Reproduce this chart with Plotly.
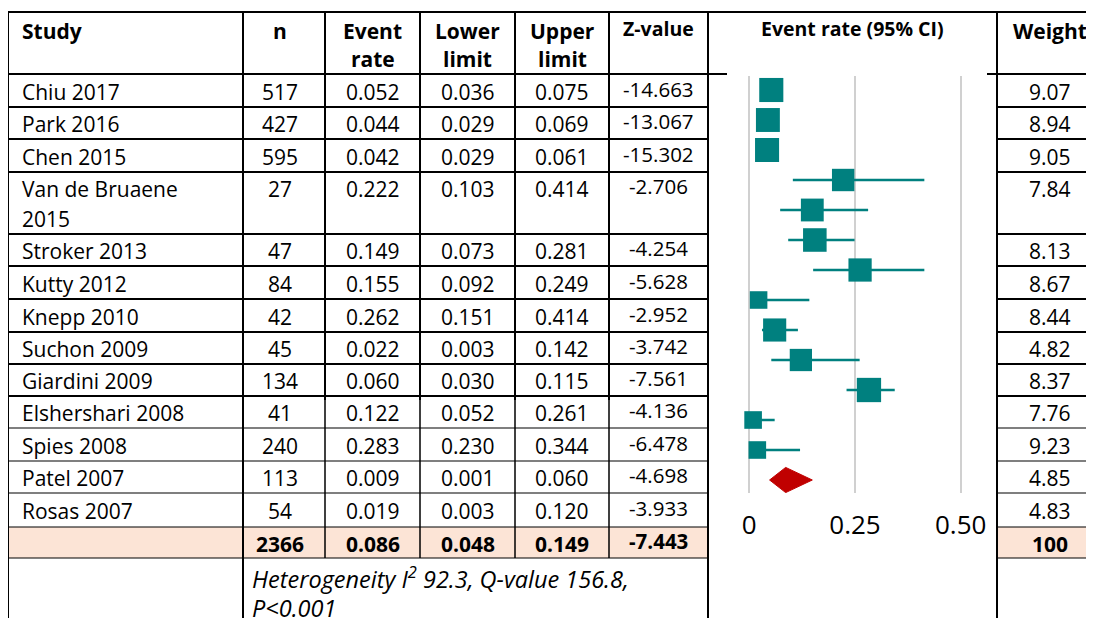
import math
import plotly.graph_objects as go

# ---------------- data ----------------
studies = ["Chiu 2017", "Park 2016", "Chen 2015", "Van de Bruaene<br>2015", "Stroker 2013",
           "Kutty 2012", "Knepp 2010", "Suchon 2009", "Giardini 2009", "Elshershari 2008",
           "Spies 2008", "Patel 2007", "Rosas 2007"]
n_values = [517, 427, 595, 27, 47, 84, 42, 45, 134, 41, 240, 113, 54]
event_rate = [0.052, 0.044, 0.042, 0.222, 0.149, 0.155, 0.262, 0.022, 0.060, 0.122, 0.283, 0.009, 0.019]
lower_limit = [0.036, 0.029, 0.029, 0.103, 0.073, 0.092, 0.151, 0.003, 0.030, 0.052, 0.230, 0.001, 0.003]
upper_limit = [0.075, 0.069, 0.061, 0.414, 0.281, 0.249, 0.414, 0.142, 0.115, 0.261, 0.344, 0.060, 0.120]
z_values = [-14.663, -13.067, -15.302, -2.706, -4.254, -5.628, -2.952, -3.742, -7.561, -4.136,
            -6.478, -4.698, -3.933]
weights = [9.07, 8.94, 9.05, 7.84, 8.13, 8.67, 8.44, 4.82, 8.37, 7.76, 9.23, 4.85, 4.83]

total_n = 2366
pooled_rate = 0.086
pooled_lower = 0.048
pooled_upper = 0.149
pooled_z = -7.443
total_weight = 100

heterogeneity_lines = ["Heterogeneity I<sup>2</sup> 92.3, Q-value 156.8,", "P<0.001"]
headers = ["Study", "n", "Event<br>rate", "Lower<br>limit", "Upper<br>limit", "Z-value",
           "Event rate (95% CI)", "Weight"]
tick_values = [0, 0.25, 0.5]
tick_labels = ["0", "0.25", "0.50"]

# ---------------- layout geometry ----------------
OFF = 8                      # page body margin
VW, VH = 1094, 618           # viewport
W, H = VW - OFF, VH - OFF    # figure size
FONT = "Open Sans"
TEAL = "#00807F"
RED = "#C00000"
ORANGE = "#FCE4D6"

col_edges = [8, 243, 325, 420, 515, 609, 708, 997, 1103]
row_edges = [12, 74, 107, 139, 172, 234, 266, 299, 332, 364, 396, 428, 461, 493, 527, 558, 640]
col_centers = [(col_edges[i] + col_edges[i + 1]) / 2 for i in range(len(col_edges) - 1)]
col_centers[1] = 280
col_centers[7] = 1050

fig = go.Figure()

# forest plot mapping (viewport pixels)
px0, ppu = 749.3, 422.8
dom_l, dom_r = 718, 992
row_y0, row_step = 90, 30
dom_t, dom_b = 76, 493

shapes = []
annotations = []


def line(x0, y0, x1, y1, w=2):
    shapes.append(dict(type="line", xref="x", yref="y", x0=x0, y0=y0, x1=x1, y1=y1,
                       line=dict(color="black", width=w), layer="above"))


def text(x, y, s, anchor="center", size=21, bold=False, italic=False):
    if bold:
        s = "<b>" + s + "</b>"
    if italic:
        s = "<i>" + s + "</i>"
    annotations.append(dict(x=x, y=y, xref="x", yref="y", text=s, showarrow=False,
                            xanchor=anchor, yanchor="middle",
                            font=dict(family=FONT, size=size, color="black")))


# summary row fill
sum_top, sum_bot = row_edges[14], row_edges[15]
shapes.append(dict(type="rect", xref="x", yref="y", x0=col_edges[0], x1=col_edges[6],
                   y0=sum_top, y1=sum_bot, fillcolor=ORANGE, line=dict(width=0), layer="below"))
shapes.append(dict(type="rect", xref="x", yref="y", x0=col_edges[7], x1=col_edges[8],
                   y0=sum_top, y1=sum_bot, fillcolor=ORANGE, line=dict(width=0), layer="below"))

# horizontal lines
line(col_edges[0], row_edges[0], col_edges[8], row_edges[0])
line(col_edges[0], row_edges[1], 727, row_edges[1])
line(987, row_edges[1], col_edges[8], row_edges[1])
for k in range(2, 16):
    w = 2 if row_edges[k] <= 400 else 1.2
    line(col_edges[0], row_edges[k], col_edges[6], row_edges[k], w)
    line(col_edges[7], row_edges[k], col_edges[8], row_edges[k], w)

# vertical lines
for k, xe in enumerate(col_edges):
    if k in (0, 1, 6, 7, 8):
        line(xe, row_edges[0], xe, VH + 5)
    else:
        line(xe, row_edges[0], xe, 400)
        line(xe, 400, xe, row_edges[15], 1.5)

# header text
hy1 = 31
for c, h in enumerate(headers):
    parts = h.split("<br>")
    if c in (5, 6):
        text(col_centers[c], 28, parts[0], size=19.5, bold=True)
        continue
    anchor = "left" if c == 0 else "center"
    x = 20 if c == 0 else col_centers[c]
    for j, p in enumerate(parts):
        text(x, hy1 + j * 28, p, anchor=anchor, bold=True)

# body rows
row_idx = list(range(1, 14))
for i, r in enumerate(row_idx):
    top, bot = row_edges[r], row_edges[r + 1]
    yc = (top + bot) / 2 + 1 if (bot - top) < 40 else top + 17
    for j, p in enumerate(studies[i].split("<br>")):
        text(20, yc + j * 30, p, anchor="left")
    text(col_centers[1], yc, str(n_values[i]))
    text(col_centers[2], yc, f"{event_rate[i]:.3f}")
    text(col_centers[3], yc, f"{lower_limit[i]:.3f}")
    text(col_centers[4], yc, f"{upper_limit[i]:.3f}")
    text(col_centers[5], yc - 3, f"{z_values[i]:.3f}", size=20.5)
    text(col_centers[7], yc, f"{weights[i]:.2f}")

# summary row
yc = (sum_top + sum_bot) / 2 + 1
text(col_centers[1], yc, str(total_n), bold=True)
text(col_centers[2], yc, f"{pooled_rate:.3f}", bold=True)
text(col_centers[3], yc, f"{pooled_lower:.3f}", bold=True)
text(col_centers[4], yc, f"{pooled_upper:.3f}", bold=True)
text(col_centers[5], yc - 3, f"{pooled_z:.3f}", size=20.5, bold=True)
text(col_centers[7], yc, str(total_weight), bold=True)

# heterogeneity
for j, s in enumerate(heterogeneity_lines):
    text(250, 577 + j * 31, s, anchor="left", size=23.5, italic=True)

# ---------------- forest plot ----------------
ypos = list(range(len(studies)))
sizes = [8 * math.sqrt(w) for w in weights]
fig.add_trace(go.Scatter(
    x=event_rate, y=ypos, mode="markers", xaxis="x2", yaxis="y2",
    marker=dict(symbol="square", size=sizes, color=TEAL, opacity=1, line=dict(width=0)),
    error_x=dict(type="data", symmetric=False,
                 array=[u - e for u, e in zip(upper_limit, event_rate)],
                 arrayminus=[e - l for e, l in zip(event_rate, lower_limit)],
                 color=TEAL, thickness=2.5, width=0),
    hoverinfo="skip", showlegend=False))

pooled_row = len(studies)
half_h = 0.42
fig.add_trace(go.Scatter(
    x=[pooled_lower, pooled_rate, pooled_upper, pooled_rate, pooled_lower],
    y=[pooled_row, pooled_row - half_h, pooled_row, pooled_row + half_h, pooled_row],
    mode="lines", fill="toself", fillcolor=RED, line=dict(color=RED, width=1),
    xaxis="x2", yaxis="y2", hoverinfo="skip", showlegend=False))

x2_range = [(dom_l - px0) / ppu, (dom_r - px0) / ppu]
y2_range = [(dom_b - row_y0) / row_step, (dom_t - row_y0) / row_step]

fig.update_layout(
    width=W, height=H, margin=dict(l=0, r=0, t=0, b=0),
    paper_bgcolor="white", plot_bgcolor="rgba(0,0,0,0)",
    xaxis=dict(range=[OFF, OFF + W], domain=[0, 1], visible=False, fixedrange=True),
    yaxis=dict(range=[OFF + H, OFF], domain=[0, 1], visible=False, fixedrange=True),
    xaxis2=dict(range=x2_range, domain=[(dom_l - OFF) / W, (dom_r - OFF) / W], anchor="y2",
                tickvals=tick_values, ticktext=tick_labels, showgrid=True,
                gridcolor="#D0D0D0", gridwidth=2, zeroline=False, showline=False,
                ticks="outside", ticklen=9, tickcolor="rgba(0,0,0,0)",
                tickfont=dict(family=FONT, size=26, color="black"), fixedrange=True),
    yaxis2=dict(range=y2_range, domain=[1 - (dom_b - OFF) / H, 1 - (dom_t - OFF) / H],
                anchor="x2", visible=False, fixedrange=True),
    shapes=shapes, annotations=annotations,
    font=dict(family=FONT, color="black"),
)

fig.write_html("out.html", config={"displayModeBar": False})
